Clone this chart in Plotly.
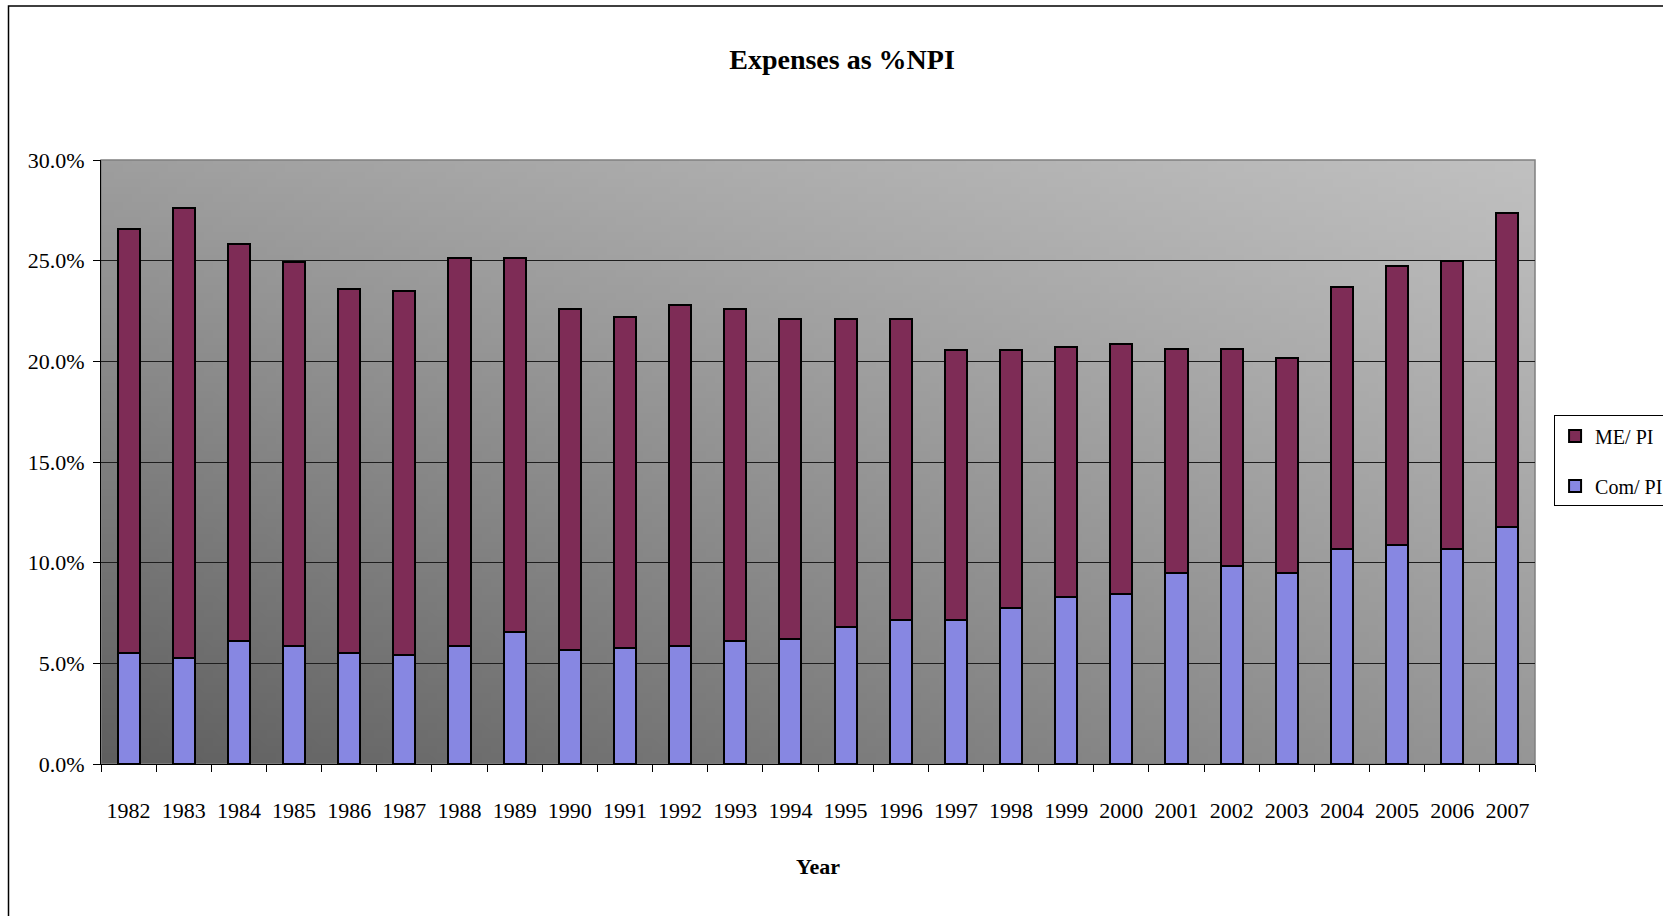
import zlib, struct, base64
import plotly.graph_objects as go

years = [str(y) for y in range(1982, 2008)]
com_pi = [5.50, 5.25, 6.10, 5.85, 5.50, 5.40, 5.85, 6.55, 5.65, 5.75, 5.85, 6.10, 6.20,
          6.80, 7.15, 7.15, 7.75, 8.30, 8.45, 9.50, 9.85, 9.50, 10.70, 10.90, 10.70, 11.75]
me_pi = [21.05, 22.35, 19.75, 19.10, 18.10, 18.10, 19.30, 18.60, 16.95, 16.45, 16.95, 16.50, 15.90,
         15.30, 14.95, 13.40, 12.80, 12.40, 12.40, 11.10, 10.75, 10.65, 13.00, 13.85, 14.30, 15.60]
y_tick_vals = [0, 5, 10, 15, 20, 25, 30]
y_tick_text = ["0.0%", "5.0%", "10.0%", "15.0%", "20.0%", "25.0%", "30.0%"]

FONT = "Liberation Serif"


def gradient_png(w, h, tl, tr, bl, br):
    rows = []
    for j in range(h):
        v = j / (h - 1)
        row = bytearray([0])
        for i in range(w):
            u = i / (w - 1)
            top = tl + (tr - tl) * u
            bot = bl + (br - bl) * u
            c = int(round(top + (bot - top) * v))
            row += bytes([c, c, c])
        rows.append(bytes(row))
    raw = b"".join(rows)

    def chunk(t, d):
        c = struct.pack(">I", len(d)) + t + d
        return c + struct.pack(">I", zlib.crc32(t + d) & 0xffffffff)

    png = (b"\x89PNG\r\n\x1a\n"
           + chunk(b"IHDR", struct.pack(">IIBBBBB", w, h, 8, 2, 0, 0, 0))
           + chunk(b"IDAT", zlib.compress(raw))
           + chunk(b"IEND", b""))
    return "data:image/png;base64," + base64.b64encode(png).decode()


bg = gradient_png(160, 80, 158, 192, 95, 150)

fig = go.Figure()
fig.add_trace(go.Bar(
    x=years, y=com_pi, name="Com/ PI", legendgroup="com", legendrank=2,
    marker=dict(color="#8787e2", line=dict(color="black", width=2)),
))
fig.add_trace(go.Bar(
    x=years, y=me_pi, name="ME/ PI", legendgroup="me", legendrank=1,
    marker=dict(color="#7e2c56", line=dict(color="black", width=2)),
))

fig.update_layout(
    width=1663, height=916,
    barmode="stack", bargap=0.6,
    paper_bgcolor="white", plot_bgcolor="rgba(0,0,0,0)",
    margin=dict(l=101, r=128, t=160, b=152, autoexpand=False),
    font=dict(family=FONT, color="black", size=22),
    title=dict(text="<b>Expenses as %NPI</b>", x=842 / 1663, xref="container", xanchor="center",
               y=1 - 59 / 916, yref="container", yanchor="middle",
               font=dict(family=FONT, size=28, color="black")),
    showlegend=True,
    legend=dict(x=1.0133, y=0.577, xanchor="left", yanchor="top",
                traceorder="grouped", tracegroupgap=21,
                bgcolor="white", bordercolor="black", borderwidth=1,
                font=dict(family=FONT, size=20, color="black")),
    images=[dict(source=bg, xref="paper", yref="paper", x=0, y=1, sizex=1, sizey=1,
                 xanchor="left", yanchor="top", sizing="stretch", layer="below")],
    shapes=[
        dict(type="rect", xref="paper", yref="paper", x0=0, x1=1, y0=0, y1=1,
             line=dict(color="#808080", width=1.5), layer="below"),
        dict(type="rect", xref="paper", yref="paper", x0=-0.0645, x1=1.2, y0=-0.4, y1=1.255,
             line=dict(color="black", width=1.5)),
    ],
)

fig.update_xaxes(
    type="category", tickson="boundaries", ticks="outside", ticklen=7, tickcolor="black",
    showline=True, linecolor="black", linewidth=1, showgrid=False,
    ticklabelstandoff=27,
    tickfont=dict(family=FONT, size=22, color="black"),
    title=dict(text="<b>Year</b>", standoff=36, font=dict(family=FONT, size=22, color="black")),
)
fig.update_yaxes(
    range=[0, 30], tickvals=y_tick_vals, ticktext=y_tick_text,
    ticks="outside", ticklen=7, tickcolor="black",
    showline=True, linecolor="black", linewidth=1,
    showgrid=True, gridcolor="#1e1e1e", gridwidth=1, zeroline=False,
    ticklabelstandoff=4,
    tickfont=dict(family=FONT, size=22, color="black"),
)

fig.write_html("out.html", config={"displayModeBar": False},
               post_script="document.body.style.margin='0';document.body.style.overflow='hidden';")
